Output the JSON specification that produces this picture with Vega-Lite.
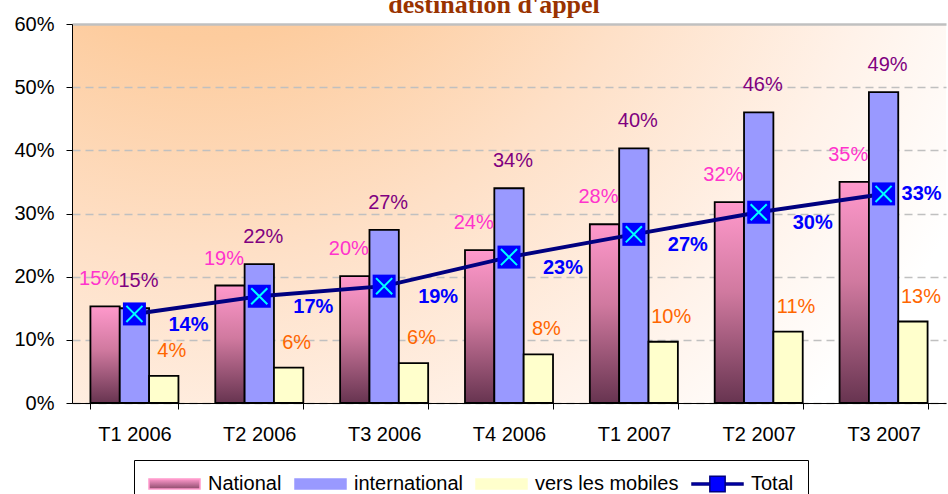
{
  "$schema": "https://vega.github.io/schema/vega-lite/v6.json",
  "width": 874,
  "height": 379,
  "autosize": {"type": "none"},
  "padding": {"left": 72, "top": 24, "right": 2, "bottom": 91},
  "background": "white",
  "title": {
    "text": "destination d'appel",
    "font": "Liberation Serif",
    "fontSize": 26,
    "fontWeight": "bold",
    "color": "#993300",
    "anchor": "middle",
    "dx": -15,
    "baseline": "alphabetic",
    "offset": -25
  },
  "config": {
    "font": "Liberation Sans",
    "view": {
      "stroke": null,
      "fill": {
        "gradient": "radial",
        "x1": 0.15, "y1": 0, "r1": 0,
        "x2": 0.15, "y2": 0, "r2": 1.0,
        "stops": [
          {"offset": 0, "color": "#fcc48c"},
          {"offset": 0.3, "color": "#fdcc9e"},
          {"offset": 0.55, "color": "#fee0c7"},
          {"offset": 0.8, "color": "#fff2e9"},
          {"offset": 1, "color": "#ffffff"}
        ]
      }
    }
  },
  "data": {
    "values": [
      {"period": "T1 2006", "series": "National", "value": 0.153},
      {"period": "T2 2006", "series": "National", "value": 0.186},
      {"period": "T3 2006", "series": "National", "value": 0.201},
      {"period": "T4 2006", "series": "National", "value": 0.242},
      {"period": "T1 2007", "series": "National", "value": 0.283},
      {"period": "T2 2007", "series": "National", "value": 0.318},
      {"period": "T3 2007", "series": "National", "value": 0.350},
      {"period": "T1 2006", "series": "international", "value": 0.150},
      {"period": "T2 2006", "series": "international", "value": 0.220},
      {"period": "T3 2006", "series": "international", "value": 0.274},
      {"period": "T4 2006", "series": "international", "value": 0.340},
      {"period": "T1 2007", "series": "international", "value": 0.403},
      {"period": "T2 2007", "series": "international", "value": 0.460},
      {"period": "T3 2007", "series": "international", "value": 0.492},
      {"period": "T1 2006", "series": "vers les mobiles", "value": 0.043},
      {"period": "T2 2006", "series": "vers les mobiles", "value": 0.056},
      {"period": "T3 2006", "series": "vers les mobiles", "value": 0.063},
      {"period": "T4 2006", "series": "vers les mobiles", "value": 0.077},
      {"period": "T1 2007", "series": "vers les mobiles", "value": 0.097},
      {"period": "T2 2007", "series": "vers les mobiles", "value": 0.113},
      {"period": "T3 2007", "series": "vers les mobiles", "value": 0.129},
      {"period": "T1 2006", "series": "Total", "value": 0.141},
      {"period": "T2 2006", "series": "Total", "value": 0.169},
      {"period": "T3 2006", "series": "Total", "value": 0.185},
      {"period": "T4 2006", "series": "Total", "value": 0.231},
      {"period": "T1 2007", "series": "Total", "value": 0.267},
      {"period": "T2 2007", "series": "Total", "value": 0.302},
      {"period": "T3 2007", "series": "Total", "value": 0.331}
    ]
  },
  "encoding": {
    "x": {
      "field": "period",
      "type": "nominal",
      "sort": null,
      "scale": {"paddingInner": 0.295, "paddingOuter": 0.1475},
      "axis": {
        "title": null,
        "labelAngle": 0,
        "labelFont": "Liberation Sans",
        "labelFontSize": 20,
        "labelColor": "black",
        "tickBand": "extent",
        "tickSize": 6,
        "tickColor": "black",
        "domainColor": "black",
        "labelPadding": 15,
        "grid": false
      }
    },
    "y": {
      "field": "value",
      "type": "quantitative",
      "scale": {"domain": [0, 0.6], "nice": false},
      "axis": {
        "title": null,
        "format": ".0%",
        "values": [0, 0.1, 0.2, 0.3, 0.4, 0.5, 0.6],
        "labelFont": "Liberation Sans",
        "labelFontSize": 20,
        "labelColor": "black",
        "tickColor": "black",
        "tickSize": 6,
        "labelPadding": 12,
        "domainColor": "black",
        "grid": true,
        "gridColor": "#c0c0c0",
        "gridDash": {"condition": {"test": "datum.value >= 0.59", "value": []}, "value": [8, 5]},
        "gridWidth": {"condition": {"test": "datum.value >= 0.59", "value": 2.5}, "value": 1.5}
      }
    }
  },
  "layer": [
    {
      "transform": [{"filter": "datum.series !== 'Total'"}],
      "mark": {"type": "bar", "stroke": "black", "strokeWidth": 1.8},
      "encoding": {
        "xOffset": {
          "field": "series",
          "type": "nominal",
          "scale": {"domain": ["National", "international", "vers les mobiles"], "paddingInner": 0, "paddingOuter": 0}
        },
        "fill": {
          "condition": [
            {
              "test": "datum.series === 'National'",
              "value": {
                "gradient": "linear",
                "x1": 0, "y1": 0, "x2": 0, "y2": 1,
                "stops": [
                  {"offset": 0, "color": "#ff99cc"},
                  {"offset": 0.45, "color": "#d0799f"},
                  {"offset": 1, "color": "#673450"}
                ]
              }
            },
            {"test": "datum.series === 'international'", "value": "#9999ff"}
          ],
          "value": "#ffffcc"
        }
      }
    },
    {
      "transform": [{"filter": "datum.series === 'National'"}],
      "mark": {"type": "text", "font": "Liberation Sans", "fontSize": 20, "color": "#ff33cc", "baseline": "middle", "dx": -6, "dy": -27},
      "encoding": {
        "xOffset": {"field": "series", "type": "nominal"},
        "text": {"field": "value", "type": "quantitative", "format": ".0%"}
      }
    },
    {
      "transform": [{"filter": "datum.series === 'international'"}],
      "mark": {"type": "text", "font": "Liberation Sans", "fontSize": 20, "color": "#800080", "baseline": "middle", "dx": 4, "dy": -27},
      "encoding": {
        "xOffset": {"field": "series", "type": "nominal"},
        "text": {"field": "value", "type": "quantitative", "format": ".0%"}
      }
    },
    {
      "transform": [{"filter": "datum.series === 'vers les mobiles'"}],
      "mark": {"type": "text", "font": "Liberation Sans", "fontSize": 20, "color": "#ff6600", "baseline": "middle", "dx": 8, "dy": -25},
      "encoding": {
        "xOffset": {"field": "series", "type": "nominal"},
        "text": {"field": "value", "type": "quantitative", "format": ".0%"}
      }
    },
    {
      "transform": [{"filter": "datum.series === 'Total'"}],
      "mark": {"type": "line", "strokeWidth": 4},
      "encoding": {
        "color": {
          "field": "series",
          "type": "nominal",
          "scale": {
            "domain": ["National", "international", "vers les mobiles", "Total"],
            "range": ["#ff99cc", "#9999ff", "#ffffcc", "#000080"]
          },
          "legend": {
            "orient": "none",
            "legendX": 62,
            "legendY": 436,
            "direction": "horizontal",
            "title": null,
            "symbolSize": 2601,
            "symbolType": "M-1,-0.2H1V0.2H-1Z",
            "symbolStrokeColor": "black",
            "symbolStrokeWidth": 1.5,
            "clipHeight": 20,
            "labelFont": "Liberation Sans",
            "labelFontSize": 20,
            "labelColor": "black",
            "labelOffset": 7,
            "columnPadding": 12,
            "strokeColor": "black",
            "fillColor": "white",
            "padding": 14,
            "encode": {
              "symbols": {
                "update": {
                  "size": {"value": 2601},
                  "strokeWidth": {"value": 1.5},
                  "shape": {"signal": "datum.value === 'Total' ? 'M-1,-0.04H-0.3V0.04H-1Z M0.3,-0.04H1V0.04H0.3Z M-0.3,-0.3H0.3V0.3H-0.3Z' : 'M-1,-0.2H1V0.2H-1Z'"},
                  "stroke": {"signal": "datum.value === 'Total' ? '#000080' : '#000000'"},
                  "strokeDash": {"value": []},
                  "opacity": {"value": 1},
                  "strokeOpacity": {"value": 1},
                  "fillOpacity": {"value": 1},
                  "fill": {"signal": "datum.value === 'National' ? {gradient: 'linear', x1: 0, y1: 0, x2: 0, y2: 1, stops: [{offset: 0, color: '#ff99cc'}, {offset: 1, color: '#8a4a6a'}]} : datum.value === 'international' ? '#9999ff' : datum.value === 'vers les mobiles' ? '#ffffcc' : '#0000ff'"}
                }
              }
            }
          }
        }
      }
    },
    {
      "transform": [{"filter": "datum.series === 'Total'"}],
      "mark": {"type": "point", "shape": "square", "filled": true, "color": "#0000ff", "opacity": 1, "size": 529},
      "encoding": {}
    },
    {
      "transform": [{"filter": "datum.series === 'Total'"}],
      "mark": {"type": "point", "shape": "M-0.7,-0.7L0.7,0.7M-0.7,0.7L0.7,-0.7", "filled": false, "stroke": "#00ffff", "strokeWidth": 2, "opacity": 1, "size": 529},
      "encoding": {}
    },
    {
      "transform": [{"filter": "datum.series === 'Total'"}],
      "mark": {
        "type": "text",
        "font": "Liberation Sans",
        "fontSize": 20,
        "fontWeight": "bold",
        "color": "#0000ff",
        "baseline": "middle",
        "dx": {"expr": "datum.period === 'T3 2007' ? 38 : 54"},
        "dy": {"expr": "datum.period === 'T3 2007' ? 0 : 11"}
      },
      "encoding": {
        "text": {"field": "value", "type": "quantitative", "format": ".0%"}
      }
    }
  ]
}
